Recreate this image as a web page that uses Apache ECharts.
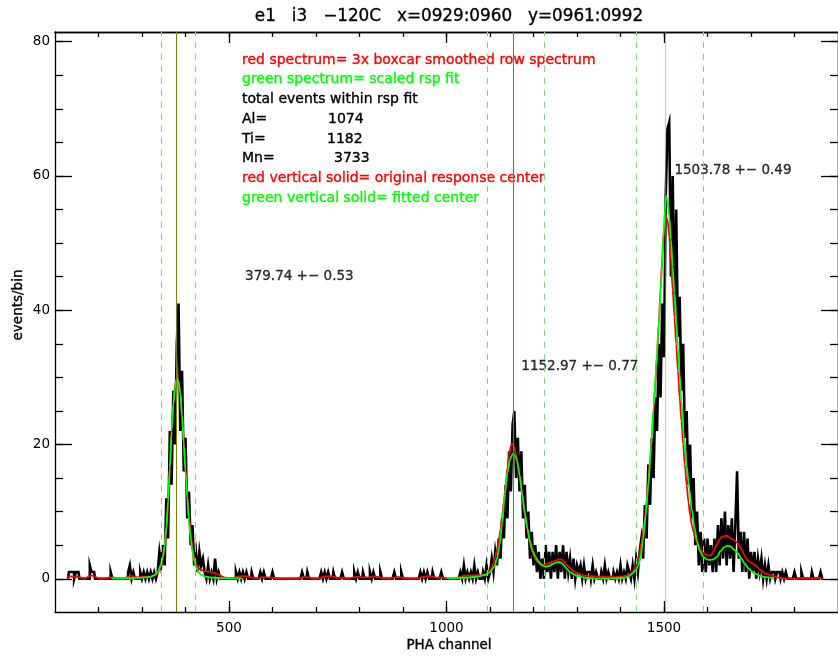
<!DOCTYPE html>
<html>
<head>
<meta charset="utf-8">
<script src="https://cdn.jsdelivr.net/npm/echarts@6/dist/echarts.min.js"></script>
<style>
  html, body { margin: 0; padding: 0; background: #fff; }
  #chart { width: 838px; height: 656px; }
</style>
</head>
<body>
<div id="chart"></div>
<script>
// ---- spectrum: counts per 4-channel bin, e1 i3 -120C ----
const SPEC_START = 128;     // first channel of the row spectrum
const BIN = 4;              // channels per plotted bin
const NBINS = 435;

// dense regions around the three lines (first bin channel given by the name)
const alPeakCounts_328 = [1,0,1,4,2,5,2,12,6,22,14,28,20,35,41,22,31,16,21,9,13,5,8,2,4,1,4,2,3,1];
const tiPeakCounts_1084 = [1,0,2,0,1,3,1,4,2,6,3,9,6,14,9,19,13,23,25,15,21,13,19,9,14,6,10,3,7,2,
                           5,1,4,0,3,0,5,1,4,0,4,1,5,0,4,1,5,0,4,1,3,0,3,0,2,1,2,0,2,0,1];
const mnPeakCounts_1420 = [1,0,2,0,3,1,4,6,3,11,6,17,11,21,15,27,22,35,27,41,33,57,67,68,45,60,40,55,36,42,
                           28,35,21,25,14,20,9,15,5,10,2,7,1,6,1,6,2,5,1,6,1,8,2,9,3,10,2,8,3,9,
                           1,8,16,3,7,1,7,1,6,0,4,1,4,0,3,1,3,0,2,0,2,0,1,1,0,1,1,0,1,0,1];
// isolated events elsewhere: [channel, counts]
const sparseCounts = [
  [132,1],[136,1],[140,1],[148,1],[152,1],[180,2],[184,1],[188,1],[228,1],[268,1],[272,2],[280,1],
  [296,1],[304,1],[312,1],[320,1],[452,2],[460,1],[468,3],[476,1],
  [516,1],[524,1],[532,1],[540,1],[552,1],[572,1],[580,1],[600,1],[668,1],[680,1],[712,1],[720,1],
  [728,1],[740,1],[760,1],[788,1],[796,1],[808,1],[824,1],[832,1],[848,1],[880,1],[896,1],[940,1],
  [948,1],[956,1],[968,1],[988,1],[1032,1],[1040,2],[1048,1],[1056,1],[1064,2],[1072,1],
  [1328,1],[1336,2],[1344,1],[1356,1],[1364,2],[1372,1],[1384,1],[1392,1],[1400,2],[1408,1],[1416,2],
  [1800,1],[1818,1],[1840,1],[1860,1]
];

// 3x boxcar smoothed row spectrum: [channel, events/bin]
const redCurveLeft = [[128,0.3],[136,0.35],[144,0.3],[152,0.3],[160,0.15],[170,0.1],[178,0.35],[184,0.5],
  [192,0.3],[200,0.1],[212,0.02],[224,0.15],[232,0.2],[244,0.05],[260,0.05],[268,0.3],[274,0.45],
  [282,0.3],[292,0.2],[302,0.3],[312,0.3],[322,0.35]];
const redCurveAl = [[330,0.5],[336,0.8],[340,1.3],[344,1.9],[348,3.0],[352,4.6],[356,7.2],[360,11],
  [364,16.5],[368,22],[372,26],[376,28.8],[380,30],[384,29.5],[388,27.8],[392,24.5],[396,20.5],
  [400,16.5],[404,12.5],[408,9.2],[412,6.6],[416,4.6],[420,3.2],[424,2.3],[430,1.6],[436,1.3],
  [442,1.2],[450,1.1],[458,1.0],[466,0.9],[474,0.7],[482,0.4],[492,0.15],[500,0.05]];
const redCurveMid = [[510,0.1],[520,0.3],[530,0.4],[540,0.35],[552,0.2],[564,0.1],[576,0.25],[588,0.2],
  [600,0.15],[612,0.02],[640,0],[660,0.05],[672,0.3],[684,0.2],[696,0.02],[708,0.1],[718,0.3],
  [728,0.4],[740,0.3],[752,0.15],[764,0.1],[776,0.05],[788,0.25],[798,0.3],[810,0.2],[822,0.2],
  [832,0.35],[844,0.25],[856,0.1],[868,0.05],[880,0.2],[892,0.25],[904,0.1],[920,0.02],[936,0.1],
  [948,0.3],[958,0.4],[968,0.3],[980,0.15],[990,0.2],[1000,0.1],[1016,0.02],[1030,0.2],[1040,0.45],
  [1050,0.5],[1060,0.5],[1070,0.55],[1078,0.5]];
const redCurveTi = [[1084,0.5],[1090,0.6],[1096,0.9],[1100,1.2],[1104,1.7],[1108,2.3],[1112,3.2],
  [1116,4.3],[1120,5.6],[1124,7.3],[1128,9.3],[1132,11.6],[1136,14],[1140,16.5],[1144,18.5],
  [1148,19.8],[1152,20.1],[1156,19.6],[1160,18.5],[1164,17],[1168,15.3],[1172,13.5],[1176,11.7],
  [1180,9.8],[1184,8],[1188,6.5],[1192,5.3],[1196,4.3],[1200,3.6],[1204,3.0],[1208,2.6],[1212,2.3],
  [1218,2.1],[1226,2.1],[1234,2.3],[1242,2.5],[1250,2.7],[1258,2.9],[1264,2.9],[1270,2.6],[1276,2.1],
  [1282,1.7],[1290,1.2],[1298,0.9],[1306,0.7],[1316,0.5],[1328,0.4],[1340,0.35],[1356,0.3],
  [1372,0.3],[1388,0.25],[1400,0.3],[1412,0.45]];
const redCurveMn = [[1420,0.6],[1424,0.8],[1428,1.0],[1432,1.4],[1436,2.0],[1440,2.8],[1444,3.8],
  [1448,5.2],[1452,7],[1456,9],[1460,11.5],[1464,14.5],[1468,17.5],[1472,21],[1476,25],[1480,29],
  [1484,33.5],[1488,38],[1492,43],[1496,48],[1500,52],[1504,54],[1508,53.5],[1512,51],[1516,47.5],
  [1520,43],[1524,39],[1528,35],[1532,31],[1536,27],[1540,23.5],[1544,20],[1548,17],[1552,14],
  [1556,11.5],[1560,9.5],[1564,8.0],[1568,7.0],[1572,6.0],[1576,5.3],[1580,4.8],[1584,4.4],[1588,4.0],
  [1592,3.8],[1596,3.6],[1600,3.5],[1604,3.5],[1608,3.5],[1612,3.9],[1616,4.4],[1620,4.9],[1624,5.4],
  [1628,5.9],[1632,6.2],[1636,6.3],[1640,6.35],[1644,6.4],[1648,6.3],[1652,6.1],[1656,5.9],[1660,5.8],
  [1664,5.6],[1668,5.4],[1672,5.0],[1676,4.6],[1680,4.2],[1684,3.6],[1688,3.1],[1692,2.8],[1696,2.6],
  [1700,2.4],[1704,2.3],[1708,2.1],[1712,1.9],[1716,1.7],[1720,1.4],[1724,1.2],[1728,1.0],[1736,0.75],
  [1744,0.55],[1752,0.4],[1760,0.25],[1772,0.1],[1782,0.02],[1800,0],[1816,0.1],[1828,0.1],
  [1840,0.05],[1856,0.1],[1866,0.05]];

// scaled response fit: [channel, events/bin]
const greenFitAl = [[230,0.05],[260,0.08],[290,0.12],[310,0.2],[320,0.3],[330,0.6],[336,1.0],[342,1.8],
  [348,3.3],[352,5.0],[356,7.8],[360,11.5],[364,16.5],[368,22],[372,26],[376,28.5],[380,29.8],
  [384,29.3],[388,27.8],[392,24.3],[396,20],[400,16],[404,12],[408,8.6],[412,6.0],[416,4.0],
  [420,2.7],[424,1.8],[430,1.0],[436,0.6],[444,0.35],[456,0.2],[480,0.1],[530,0.05]];
const greenFitTiMn = [[1000,0.1],[1040,0.15],[1070,0.3],[1090,0.6],[1100,1.0],[1110,1.8],[1116,3.0],
  [1122,5.0],[1128,8.3],[1134,12.5],[1140,15.8],[1146,17.8],[1152,18.6],[1156,18.5],[1162,17.6],
  [1168,15.5],[1174,12.5],[1180,9.8],[1186,7.5],[1192,5.5],[1198,4.2],[1204,3.3],[1212,2.5],
  [1220,2.0],[1228,1.8],[1236,1.9],[1244,2.2],[1252,2.4],[1258,2.5],[1264,2.4],[1270,2.0],[1276,1.5],
  [1284,1.0],[1292,0.7],[1300,0.45],[1312,0.25],[1324,0.1],[1350,0.02],[1384,0.05],[1400,0.1],
  [1414,0.2],[1420,0.4],[1428,0.8],[1434,1.2],[1440,1.8],[1446,3.2],[1452,5.8],[1458,9.5],[1464,14],
  [1470,19.5],[1476,25.5],[1482,31.5],[1488,38],[1494,45],[1498,50.5],[1502,55],[1505,57],
  [1508,56.5],[1512,54],[1516,50.5],[1520,46.5],[1524,42.5],[1528,38.5],[1532,34.5],[1536,30.5],
  [1540,26.5],[1546,21],[1552,16.8],[1558,13.5],[1564,10.3],[1570,7.6],[1576,5.6],[1582,4.2],
  [1590,3.3],[1598,2.9],[1606,2.8],[1614,2.9],[1622,3.3],[1630,4.1],[1638,4.7],[1646,4.9],[1654,4.8],
  [1662,4.3],[1670,3.8],[1678,3.0],[1686,2.2],[1694,1.6],[1702,1.1],[1712,0.7],[1722,0.4],
  [1734,0.25],[1745,0.15],[1753,0.1]];

// line centres, fit windows and totals
const lineNames = ['Al', 'Ti', 'Mn'];
const fitCenters = [379.74, 1152.97, 1503.78];
const fitErrors = [0.53, 0.77, 0.49];
const originalCenters = [379.74, 1152.9];
const fitWindowEdges = [344, 423, 1093, 1225, 1436, 1590];
const fitTotals = [1074, 1182, 3733];
// where each centre label is written, in data coordinates
const centerLabelAnchors = [[537, 45.1], [1172, 31.6], [1524, 60.8]];

// axis ticks
const xMajorTicks = [500, 1000, 1500];
const xMinorTicks = [200, 300, 400, 500, 600, 700, 800, 900, 1000, 1100, 1200, 1300, 1400, 1500, 1600, 1700, 1800];
const yMajorTicks = [0, 20, 40, 60, 80];
const yMinorTicks = [-5, 0, 5, 10, 15, 20, 25, 30, 35, 40, 45, 50, 55, 60, 65, 70, 75, 80];

// ---- build ----
const FONT = 'DejaVu Sans';
const BLACK = '#000000', RED = '#ff0000', GREEN = '#00ff00';

function buildHistogram() {
  const counts = new Array(NBINS).fill(0);
  const place = (start, arr) => arr.forEach((v, i) => { counts[(start - SPEC_START) / BIN + i] = v; });
  place(328, alPeakCounts_328);
  place(1084, tiPeakCounts_1084);
  place(1420, mnPeakCounts_1420);
  sparseCounts.forEach(([ch, v]) => { counts[Math.floor((ch - SPEC_START) / BIN)] = v; });
  return counts.map((v, i) => [SPEC_START + i * BIN + BIN / 2, v]);
}

const axisLineStyle = { color: BLACK, width: 1.3 };
const plainNumber = (v) => String(v);
function xAxisDef(position, ticks, len, labels) {
  return {
    type: 'value', min: 100, max: 1900, position,
    axisLine: { show: !!labels || position === 'top', onZero: false, lineStyle: axisLineStyle },
    axisTick: { show: true, inside: true, length: len, customValues: ticks, lineStyle: axisLineStyle },
    axisLabel: labels ? { show: true, customValues: ticks, margin: 9, color: BLACK, fontSize: 13.5,
                          fontFamily: FONT, formatter: plainNumber }
                      : { show: false },
    splitLine: { show: false }
  };
}
function yAxisDef(position, ticks, len, labels) {
  return {
    type: 'value', min: -4.95, max: 81.45, position,
    axisLine: { show: !!labels || position === 'right', onZero: false, lineStyle: axisLineStyle },
    axisTick: { show: true, inside: true, length: len, customValues: ticks, lineStyle: axisLineStyle },
    axisLabel: labels ? { show: true, customValues: ticks, margin: 5, color: BLACK, fontSize: 13.5,
                          fontFamily: FONT, formatter: plainNumber }
                      : { show: false },
    splitLine: { show: false }
  };
}

function vLines(values, style) {
  return values.map(v => ({ xAxis: v, lineStyle: style }));
}

const legendRows = [
  { text: 'red spectrum= 3x boxcar smoothed row spectrum', color: RED },
  { text: 'green spectrum= scaled rsp fit', color: GREEN },
  { text: 'total events within rsp fit', color: BLACK },
  ...lineNames.map((n, i) => ({ text: n + '=', value: String(fitTotals[i]), color: BLACK })),
  { text: 'red vertical solid= original response center', color: RED },
  { text: 'green vertical solid= fitted center', color: GREEN }
];
const totalsX = [328, 327, 334];
const LEGEND_FONT = '14px "' + FONT + '"';

function textEl(x, y, text, color, font, align, extra) {
  return Object.assign({
    type: 'text', x, y, silent: true,
    style: { text, fill: color, font, stroke: color, lineWidth: 0.35,
             textAlign: align, textVerticalAlign: 'middle', align, verticalAlign: 'middle' }
  }, extra || {});
}

const graphics = [];
graphics.push(textEl(449, 17, 'e1   i3   \u2212120C   x=0929:0960   y=0961:0992', BLACK, '16.8px "' + FONT + '"', 'center'));
graphics.push(textEl(449, 645, 'PHA channel', BLACK, '13.5px "' + FONT + '"', 'center'));
graphics.push(textEl(18, 305, 'events/bin', BLACK, '13.5px "' + FONT + '"', 'center', { rotation: Math.PI / 2 }));
let ti = 0;
legendRows.forEach((r, row) => {
  const y = 60 + row * 19.75;
  graphics.push(textEl(242, y, r.text, r.color, LEGEND_FONT, 'left'));
  if (r.value) graphics.push(textEl(totalsX[ti++], y, r.value, r.color, LEGEND_FONT, 'left'));
});

const chart = echarts.init(document.getElementById('chart'), null, { renderer: 'canvas' });
chart.setOption({
  animation: false,
  backgroundColor: '#ffffff',
  grid: { left: 55, right: -8, top: 32, bottom: 44, containLabel: false },
  xAxis: [
    xAxisDef('bottom', xMajorTicks, 11, true),
    xAxisDef('bottom', xMinorTicks, 5, false),
    xAxisDef('top', xMajorTicks, 11, false),
    xAxisDef('top', xMinorTicks, 5, false)
  ],
  yAxis: [
    yAxisDef('left', yMajorTicks, 17, true),
    yAxisDef('left', yMinorTicks, 8, false),
    yAxisDef('right', yMajorTicks, 17, false),
    yAxisDef('right', yMinorTicks, 8, false)
  ],
  graphic: graphics,
  series: [
    {
      name: 'fit windows', type: 'line', data: [], silent: true,
      markLine: {
        silent: true, symbol: 'none', label: { show: false }, animation: false,
        data: vLines(fitWindowEdges, { color: '#7fd87f', width: 1, type: [6, 6] })
      }
    },
    {
      name: 'row spectrum', type: 'line', step: 'middle', showSymbol: false, silent: true,
      data: buildHistogram(),
      lineStyle: { color: BLACK, width: 2.6, join: 'miter' }
    },
    {
      name: 'smoothed', type: 'line', showSymbol: false, silent: true, smooth: 0.3, smoothMonotone: 'x',
      data: [].concat(redCurveLeft, redCurveAl, redCurveMid, redCurveTi, redCurveMn),
      lineStyle: { color: RED, width: 1.8 }
    },
    {
      name: 'fit Al', type: 'line', showSymbol: false, silent: true, smooth: 0.3, smoothMonotone: 'x',
      data: greenFitAl, lineStyle: { color: GREEN, width: 1.8 }
    },
    {
      name: 'fit Ti Mn', type: 'line', showSymbol: false, silent: true, smooth: 0.3, smoothMonotone: 'x',
      data: greenFitTiMn, lineStyle: { color: GREEN, width: 1.8 }
    },
    {
      name: 'centres', type: 'line', data: [], silent: true,
      markLine: {
        silent: true, symbol: 'none', label: { show: false }, animation: false,
        data: vLines(originalCenters, { color: RED, width: 1, type: 'solid' })
          .concat(vLines(fitCenters, { color: 'rgba(0,255,0,0.5)', width: 1.2, type: 'solid' }))
      }
    },
    {
      name: 'centre labels', type: 'scatter', symbolSize: 0, silent: true,
      data: centerLabelAnchors.map((p, i) => ({ value: p, txt: fitCenters[i].toFixed(2) + ' +\u2212 ' + fitErrors[i].toFixed(2) })),
      label: {
        show: true, position: 'right', distance: 0, color: BLACK, fontSize: 13.5, fontFamily: FONT,
        textBorderColor: BLACK, textBorderWidth: 0.35,
        formatter: (p) => p.data.txt
      }
    }
  ]
});
</script>
</body>
</html>
